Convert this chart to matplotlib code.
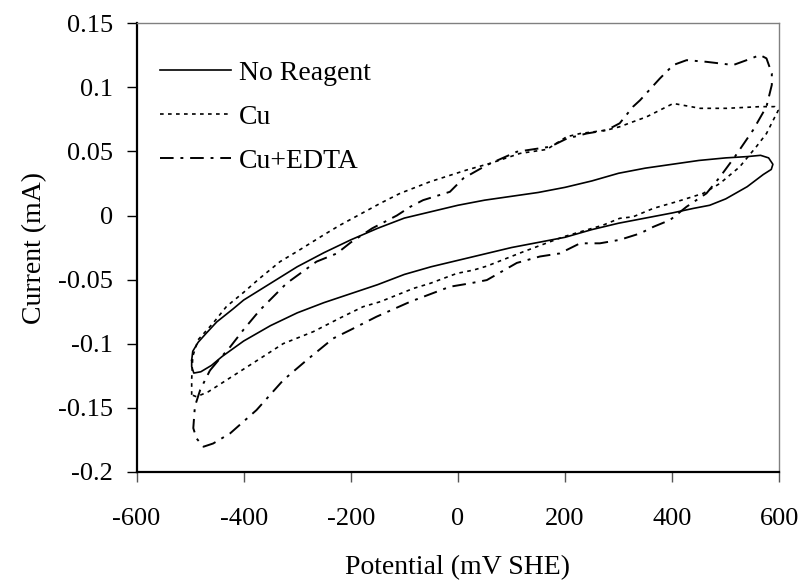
import numpy as np
import matplotlib
matplotlib.use("Agg")
import matplotlib.pyplot as plt

plt.rcParams["font.family"] = ["Liberation Serif", "DejaVu Serif"]

# Cyclic voltammograms (potential in mV SHE, current in mA)
no_reagent_mv = [-497, -495, -485, -470, -450, -420, -400, -350, -300, -250, -200,
                 -150, -100, -50, 0, 50, 100, 150, 200, 250, 300, 350, 400, 450,
                 500, 540, 565, 580, 588, 585, 570, 540, 500, 470, 440, 400, 350,
                 300, 250, 200, 150, 100, 50, 0, -50, -100, -150, -200, -250, -300,
                 -350, -400, -440, -460, -480, -493, -497, -497]
no_reagent_ma = [-0.113, -0.106, -0.099, -0.092, -0.083, -0.073, -0.066, -0.053,
                 -0.040, -0.029, -0.019, -0.010, -0.002, 0.003, 0.008, 0.012, 0.015,
                 0.018, 0.022, 0.027, 0.033, 0.037, 0.040, 0.043, 0.045, 0.046,
                 0.047, 0.045, 0.040, 0.036, 0.032, 0.0225, 0.013, 0.008, 0.0056,
                 0.002, -0.002, -0.006, -0.011, -0.017, -0.021, -0.025, -0.030,
                 -0.035, -0.040, -0.046, -0.054, -0.061, -0.068, -0.076, -0.086,
                 -0.098, -0.110, -0.117, -0.122, -0.123, -0.118, -0.113]

cu_mv = [-497, -497, -495, -485, -457, -432, -400, -370, -332, -300, -250, -220,
         -145, -108, -52, 16, 60, 116, 166, 203, 228, 278, 302, 327, 352, 402, 452,
         502, 564, 592, 598, 595, 576, 557, 526, 489, 458, 410, 365, 327, 302, 271,
         197, 122, 54, 29, -2, -52, -83, -145, -177, -220, -270, -326, -388, -466,
         -488, -497]
cu_ma = [-0.140, -0.128, -0.110, -0.097, -0.084, -0.071, -0.060, -0.049, -0.036,
         -0.028, -0.015, -0.0075, 0.0095, 0.0173, 0.0264, 0.0355, 0.0407, 0.0485,
         0.0516, 0.0615, 0.064, 0.0667, 0.0693, 0.0732, 0.077, 0.0875, 0.0837,
         0.0837, 0.085, 0.085, 0.082, 0.0797, 0.064, 0.0537, 0.038, 0.025, 0.0173,
         0.011, 0.0056, -0.001, -0.0022, -0.0075, -0.0166, -0.0283, -0.0395,
         -0.0426, -0.0452, -0.053, -0.0569, -0.0673, -0.0712, -0.080, -0.0907,
         -0.100, -0.1167, -0.1376, -0.1415, -0.140]

cu_edta_mv = [-463, -445, -425, -400, -370, -320, -264, -226, -200, -160, -114,
              -89, -65, -15, 10, 54, 110, 172, 203, 240, 278, 302, 327, 340, 377,
              402, 427, 464, 514, 539, 564, 576, 586, 586, 576, 551, 517, 489, 464,
              427, 396, 365, 340, 302, 265, 228, 190, 153, 110, 54, 22, -15, -89,
              -152, -201, -233, -282, -326, -376, -425, -457, -475, -488, -494,
              -491, -481, -463]
cu_edta_ma = [-0.121, -0.112, -0.1025, -0.089, -0.074, -0.053, -0.036, -0.0296,
              -0.021, -0.010, 0.0, 0.0068, 0.012, 0.0185, 0.029, 0.0394, 0.0498,
              0.0537, 0.060, 0.064, 0.0667, 0.072, 0.085, 0.090, 0.107, 0.1175,
              0.1213, 0.120, 0.1175, 0.1213, 0.1253, 0.1227, 0.111, 0.102, 0.085,
              0.0667, 0.0459, 0.030, 0.0173, 0.0069, -0.0035, -0.0088, -0.014,
              -0.019, -0.0217, -0.0217, -0.0296, -0.032, -0.037, -0.0504, -0.053,
              -0.0556, -0.0673, -0.079, -0.0894, -0.096, -0.1128, -0.1285, -0.1519,
              -0.170, -0.178, -0.1805, -0.174, -0.166, -0.149, -0.136, -0.121]

x_ticks = [-600, -400, -200, 0, 200, 400, 600]
y_ticks = [-0.2, -0.15, -0.1, -0.05, 0, 0.05, 0.1, 0.15]
y_tick_labels = ["-0.2", "-0.15", "-0.1", "-0.05", "0", "0.05", "0.1", "0.15"]

fig = plt.figure(figsize=(8.03, 5.85), dpi=100)
ax = fig.add_axes([0.170, 0.1937, 0.8005, 0.7663])

ax.plot(no_reagent_mv, no_reagent_ma, color="black", lw=1.2, label="No Reagent")
ax.plot(cu_mv, cu_ma, color="black", lw=1.2, ls=(0, (2.2, 2.6)), label="Cu")
ax.plot(cu_edta_mv, cu_edta_ma, color="black", lw=1.4, ls=(0, (7, 3.5, 1.5, 3.5)),
        label="Cu+EDTA")

ax.set_xlim(-600, 600)
ax.set_ylim(-0.2, 0.15)
ax.set_xticks(x_ticks)
ax.set_xticklabels([str(v) for v in x_ticks])
ax.set_yticks(y_ticks)
ax.set_yticklabels(y_tick_labels)
ax.tick_params(axis="x", direction="out", length=7, width=1, pad=19,
               labelsize=19, color="#555555")
ax.tick_params(axis="y", direction="out", length=7, width=1, pad=10,
               labelsize=19)

for side in ["left", "bottom"]:
    ax.spines[side].set_linewidth(1.6)
    ax.spines[side].set_color("black")
for side in ["top", "right"]:
    ax.spines[side].set_linewidth(1.0)
    ax.spines[side].set_color("#808080")

ax.set_xlabel("Potential (mV SHE)", fontsize=20, labelpad=18)
ax.set_ylabel("Current (mA)", fontsize=20, labelpad=8)

ax.legend(loc="upper left", bbox_to_anchor=(0.019, 0.942), frameon=False,
          fontsize=20, handlelength=2.55, handletextpad=0.3, labelspacing=0.66,
          borderaxespad=0.0)

fig.savefig("out.png", dpi=100)
